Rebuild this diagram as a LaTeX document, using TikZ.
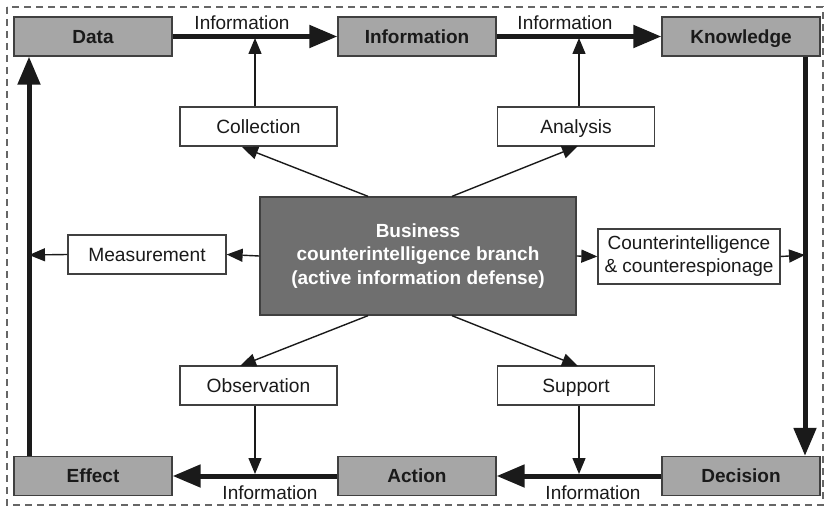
\documentclass[tikz,border=0pt]{standalone}
\usepackage{fontspec}
\setmainfont{Liberation Sans}
\usetikzlibrary{arrows.meta}
\definecolor{stagefill}{HTML}{A6A6A6}
\definecolor{corefill}{HTML}{6F6F6F}
\definecolor{edgegray}{HTML}{404040}
\definecolor{inkdark}{HTML}{1A1A1A}
\tikzset{
  stage/.style={draw=edgegray, line width=1.3pt, fill=stagefill, minimum width=158pt, minimum height=39pt,
    inner sep=0pt, text height=13.6pt, text depth=0pt,
    font=\fontsize{19}{22}\selectfont\bfseries, text=inkdark},
  task/.style={draw=edgegray, line width=1.3pt, fill=white, minimum width=157pt, minimum height=39pt,
    inner sep=0pt, text height=13.6pt, text depth=0pt,
    font=\fontsize{19.2}{22}\selectfont, text=inkdark},
  core/.style={draw=edgegray, line width=1.3pt, fill=corefill, minimum width=316pt, minimum height=118pt,
    inner sep=0pt, align=center, font=\fontsize{19}{23.5}\selectfont\bfseries, text=white},
  flow/.style={draw=inkdark, line width=5pt, -{Triangle[length=28pt,width=22pt]}},
  feed/.style={draw=inkdark, line width=1.4pt, -{Triangle[length=16pt,width=13pt]}},
  flowlabel/.style={font=\fontsize{19}{22}\selectfont, text=inkdark, inner sep=0pt},
  frame/.style={draw=gray!80!black, line width=1.2pt, dash pattern=on 7pt off 5pt}
}
\begin{document}
\begin{tikzpicture}[x=1pt,y=-1pt]
\useasboundingbox (0,0) rectangle (826,508);
\draw[frame] (7,7) rectangle (823,505);

% cycle stages
\node[stage] (data) at (93,36.5) {Data};
\node[stage] (info) at (417,36.5) {Information};
\node[stage] (know) at (741,36.5) {Knowledge};
\node[stage] (effect) at (93,476) {Effect};
\node[stage] (action) at (417,476) {Action};
\node[stage] (decision) at (741,476) {Decision};

% branch activities
\node[task] (collect) at (258.5,126.5) {Collection};
\node[task] (analysis) at (576,126.5) {Analysis};
\node[task] (observe) at (258.5,385.5) {Observation};
\node[task] (support) at (576,385.5) {Support};
\node[task, minimum width=158pt] (measure) at (147,254.5) {Measurement};
\node[task, minimum width=182pt, minimum height=55pt, align=center, text height=, text depth=,
      font=\fontsize{19}{23}\selectfont] (ci) at (689,256.5)
      {Counterintelligence\\\& counterespionage};

% central branch
\node[core] (branch) at (418,256)
  {Business\\counterintelligence branch\\(active information defense)};

% points on the main loop where feeds arrive
\coordinate (topA) at (255,38);
\coordinate (topB) at (579,38);
\coordinate (botA) at (255,474);
\coordinate (botB) at (579,474);
\coordinate (leftLine) at (29,255);
\coordinate (rightLine) at (805,255);

% main loop
\draw[flow] (data.east) -- (info.west);
\draw[flow] (info.east) -- (know.west);
\draw[flow] (know.south -| rightLine) -- (decision.north -| rightLine);
\draw[flow] (decision.west) -- (action.east);
\draw[flow] (action.west) -- (effect.east);
\draw[flow] (effect.north -| leftLine) -- (data.south -| leftLine);

\node[flowlabel] (lblA) at (242,23) {Information};
\node[flowlabel] (lblB) at (565,23) {Information};
\node[flowlabel] (lblC) at (270,493) {Information};
\node[flowlabel] (lblD) at (593,493) {Information};

% activity feeds
\draw[feed] (collect.north -| topA) -- (topA);
\draw[feed] (analysis.north -| topB) -- (topB);
\draw[feed] (observe.south -| botA) -- (botA);
\draw[feed] (support.south -| botB) -- (botB);

% branch outputs
\draw[feed] (branch.north -| 368,0) -- (242,147);
\draw[feed] (branch.north -| 452,0) -- (578,146);
\draw[feed] (branch.south -| 368,0) -- (240,366);
\draw[feed] (branch.south -| 452,0) -- (578,366);
\draw[feed] (branch.west) -- (measure.east);
\draw[feed] (measure.west) -- (leftLine);
\draw[feed] (branch.east) -- (ci.west);
\draw[feed] (ci.east) -- (rightLine);
\end{tikzpicture}
\end{document}
